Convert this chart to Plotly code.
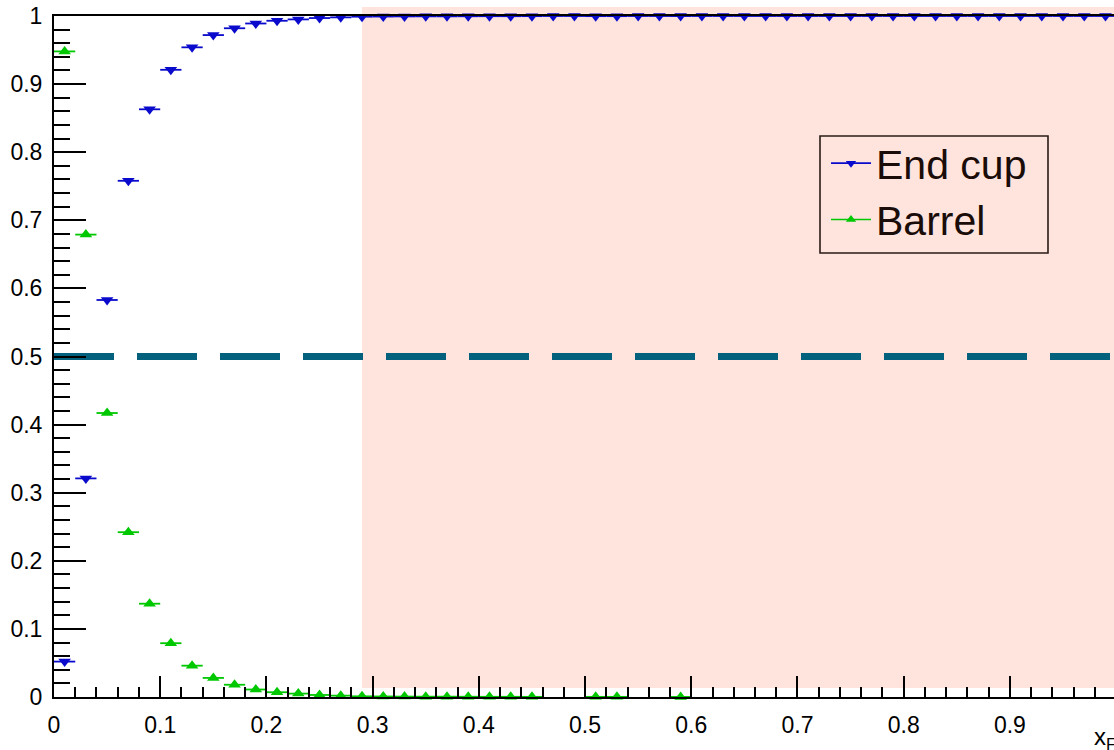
import plotly.graph_objects as go

# Bin centres of the x_F histogram (50 bins of width 0.02)
bin_centers = [round(0.01 + 0.02 * i, 2) for i in range(50)]
bin_half_width = 0.01

# Fraction of entries per bin
end_cup = [
    0.052, 0.321, 0.583, 0.758, 0.863, 0.921, 0.954, 0.972, 0.982, 0.989,
    0.993, 0.995, 0.997, 0.998, 0.999, 0.9992, 0.9994, 0.9995, 0.9995, 0.9996,
    0.9997, 0.9997, 0.9998, 1.0, 1.0, 0.9998, 0.9998, 1.0, 1.0, 0.9999,
    1.0, 1.0, 1.0, 1.0, 1.0, 1.0, 1.0, 1.0, 1.0, 1.0,
    1.0, 1.0, 1.0, 1.0, 1.0, 1.0, 1.0, 1.0, 1.0, 1.0,
]
barrel = [
    0.948, 0.679, 0.417, 0.242, 0.137, 0.079, 0.046, 0.028, 0.018, 0.011,
    0.007, 0.005, 0.003, 0.002, 0.001, 0.0008, 0.0006, 0.0005, 0.0005, 0.0004,
    0.0003, 0.0003, 0.0002, None, None, 0.0002, 0.0002, None, None, 0.0001,
    None, None, None, None, None, None, None, None, None, None,
    None, None, None, None, None, None, None, None, None, None,
]

series = [
    ("End cup", end_cup, "#0a0acc", "triangle-down"),
    ("Barrel", barrel, "#00c800", "triangle-up"),
]

# Highlighted x_F region and reference level
region_start = 0.29
ref_level = 0.5

X_MAX = 0.998
Y_MIN, Y_MAX = 0.0, 1.0
FONT = "Liberation Sans, Arial, sans-serif"

# plot-area geometry in pixels (used to place the legend frame)
L, T, W, H = 54, 16, 1060, 681


def px_to_paper(px, py):
    return (px - L) / W, (T + H - py) / H


fig = go.Figure()

# dashed reference line across the full x range
fig.add_trace(go.Scatter(
    x=[0, X_MAX], y=[ref_level, ref_level], mode="lines", showlegend=False,
    line=dict(color="#04617d", width=7, dash="60px,23px"),
    hoverinfo="skip",
))

for name, vals, color, symbol in series:
    fig.add_trace(go.Scatter(
        x=bin_centers, y=vals, mode="markers", name=name, showlegend=False,
        marker=dict(symbol=symbol, size=11, color=color),
        error_x=dict(type="constant", value=bin_half_width, width=0,
                     thickness=1.8, color=color),
        cliponaxis=False,
    ))
    # legend entry with line + marker sample
    fig.add_trace(go.Scatter(
        x=[None], y=[None], mode="lines+markers", name=name,
        marker=dict(symbol=symbol, size=9, color=color),
        line=dict(color=color, width=1.6),
    ))

# pink band for the selected region (slightly offset upwards)
fig.add_shape(
    type="rect", xref="paper", yref="paper", layer="below",
    x0=region_start / X_MAX, x1=1.0, y0=0.0132, y1=1.0132,
    fillcolor="#ffe4de", line=dict(width=0),
)

# legend frame
fx0, fy1 = px_to_paper(820, 136)
fx1, fy0 = px_to_paper(1048, 253)
fig.add_shape(
    type="rect", xref="paper", yref="paper", layer="above",
    x0=fx0, x1=fx1, y0=fy0, y1=fy1,
    line=dict(color="#2a1a14", width=1.6), fillcolor="rgba(0,0,0,0)",
)

fig.add_annotation(
    text="x<sub>F</sub>", xref="paper", yref="paper",
    x=0.979, y=-0.035, xanchor="left", yanchor="top",
    showarrow=False, font=dict(family=FONT, size=24, color="black"),
)

lgx, lgy = px_to_paper(826, 130)
fig.update_layout(
    width=1114, height=750,
    margin=dict(l=L, r=0, t=T, b=750 - T - H),
    paper_bgcolor="white", plot_bgcolor="rgba(0,0,0,0)",
    font=dict(family=FONT, size=23, color="black"),
    legend=dict(
        x=lgx, y=lgy, xanchor="left", yanchor="top",
        bgcolor="rgba(0,0,0,0)", borderwidth=0,
        font=dict(family=FONT, size=41, color="#1a0c08"),
        itemwidth=40, tracegroupgap=0,
    ),
    xaxis=dict(
        range=[0, X_MAX], dtick=0.1, tick0=0, showgrid=False, zeroline=False,
        showline=True, linecolor="black", linewidth=2, mirror=True,
        ticks="inside", ticklen=21, tickwidth=1.5, tickcolor="black",
        minor=dict(dtick=0.02, ticks="inside", ticklen=10, tickwidth=1.5,
                   tickcolor="black", showgrid=False),
        tickfont=dict(size=23), ticklabelstandoff=6,
    ),
    yaxis=dict(
        range=[Y_MIN, Y_MAX], dtick=0.1, tick0=0, showgrid=False,
        zeroline=False, showline=True, linecolor="black", linewidth=2,
        ticks="inside", ticklen=32, tickwidth=1.5, tickcolor="black",
        minor=dict(dtick=0.02, ticks="inside", ticklen=16, tickwidth=1.5,
                   tickcolor="black", showgrid=False),
        tickfont=dict(size=23), ticklabelstandoff=5,
    ),
)

fig.write_html("out.html")
